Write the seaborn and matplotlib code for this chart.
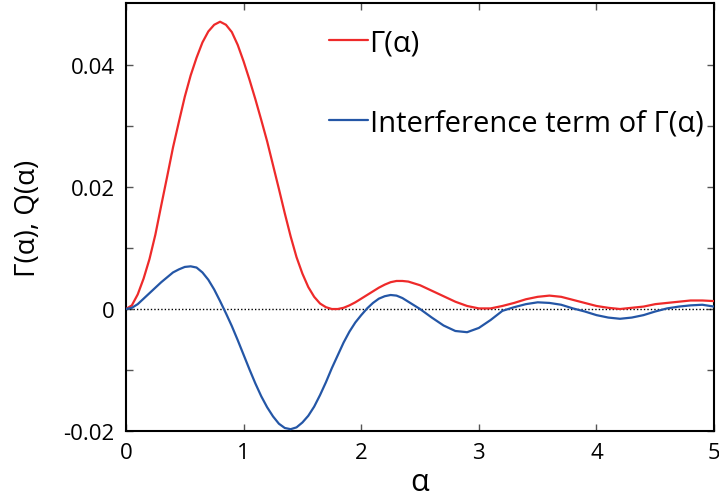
import numpy as np
import pandas as pd
import matplotlib
matplotlib.use("Agg")
import matplotlib.pyplot as plt
import seaborn as sns

alpha = [0.0, 0.05, 0.1, 0.15, 0.2, 0.25, 0.3, 0.35, 0.4, 0.45,
         0.5, 0.55, 0.6, 0.65, 0.7, 0.75, 0.8, 0.85, 0.9, 0.95,
         1.0, 1.05, 1.1, 1.15, 1.2, 1.25, 1.3, 1.35, 1.4, 1.45,
         1.5, 1.55, 1.6, 1.65, 1.7, 1.75, 1.8, 1.85, 1.9, 1.95,
         2.0, 2.05, 2.1, 2.15, 2.2, 2.25, 2.3, 2.35, 2.4, 2.45,
         2.5, 2.6, 2.7, 2.8, 2.9,
         3.0, 3.1, 3.2, 3.3, 3.4, 3.5, 3.6, 3.7, 3.8, 3.9,
         4.0, 4.1, 4.2, 4.3, 4.4, 4.5, 4.6, 4.7, 4.8, 4.9, 5.0]

gamma = [0.0, 0.0006, 0.0024, 0.0050, 0.0082, 0.0122, 0.0170, 0.0217, 0.0265, 0.0307,
         0.0348, 0.0383, 0.0412, 0.0437, 0.0455, 0.0466, 0.0471, 0.0466, 0.0454, 0.0433,
         0.0406, 0.0376, 0.0344, 0.0310, 0.0275, 0.0236, 0.0197, 0.0157, 0.0119, 0.0085,
         0.0058, 0.0036, 0.0020, 0.0009, 0.0003, 0.0000, 0.0000, 0.0002, 0.0006, 0.0011,
         0.0017, 0.0023, 0.0029, 0.0035, 0.0040, 0.0044, 0.0046, 0.0046, 0.0045, 0.0042,
         0.0039, 0.0030, 0.0021, 0.0012, 0.0005,
         0.0001, 0.0001, 0.0005, 0.0010, 0.0016, 0.0020, 0.0022, 0.0020, 0.0015, 0.0010,
         0.0005, 0.0002, 0.0000, 0.0002, 0.0004, 0.0008, 0.0010, 0.0012, 0.0014, 0.0014, 0.0013]

interference = [0.0, 0.0002, 0.0008, 0.0017, 0.0026, 0.0035, 0.0044, 0.0052, 0.0060, 0.0065,
                0.0069, 0.0070, 0.0068, 0.0060, 0.0048, 0.0032, 0.0013, -0.0007, -0.0028, -0.0051,
                -0.0075, -0.0099, -0.0122, -0.0143, -0.0161, -0.0176, -0.0188, -0.0195, -0.0197, -0.0194,
                -0.0186, -0.0175, -0.0160, -0.0141, -0.0120, -0.0097, -0.0076, -0.0055, -0.0037, -0.0022,
                -0.0010, 0.0001, 0.0010, 0.0017, 0.0021, 0.0023, 0.0022, 0.0018, 0.0012, 0.0006,
                0.0000, -0.0014, -0.0027, -0.0036, -0.0038,
                -0.0031, -0.0018, -0.0003, 0.0003, 0.0008, 0.0011, 0.0010, 0.0007, 0.0001, -0.0004,
                -0.0010, -0.0014, -0.0016, -0.0014, -0.0010, -0.0004, 0.0001, 0.0004, 0.0006, 0.0007, 0.0004]

labels = ["Γ(α)", "Interference term of Γ(α)"]
colors = ["#ee2a2a", "#2456a6"]

y_ticks = [-0.02, -0.01, 0.0, 0.01, 0.02, 0.03, 0.04]
y_ticklabels = ["-0.02", "", "0", "", "0.02", "", "0.04"]
x_ticks = [0, 1, 2, 3, 4, 5]

df = pd.DataFrame({
    "alpha": alpha * 2,
    "value": gamma + interference,
    "series": [labels[0]] * len(alpha) + [labels[1]] * len(alpha),
})

sns.set_style("ticks")
plt.rcParams["font.family"] = ["Open Sans", "DejaVu Sans"]
plt.rcParams["axes.unicode_minus"] = False
plt.rcParams["text.color"] = "black"
plt.rcParams["axes.labelcolor"] = "black"

fig = plt.figure(figsize=(7.19, 5.02), dpi=100)
ax = fig.add_axes([0.1752, 0.1394, 0.818, 0.853])

ax.axhline(0, color="black", linestyle=(0, (1, 1.5)), linewidth=1.0, zorder=1)
sns.lineplot(data=df, x="alpha", y="value", hue="series", palette=colors,
             linewidth=1.6, ax=ax, legend=True, zorder=3)

ax.set_xlim(0, 5)
ax.set_ylim(-0.02, 0.0502)
ax.set_xticks(x_ticks)
ax.set_xticklabels([str(t) for t in x_ticks])
ax.set_yticks(y_ticks)
ax.set_yticklabels(y_ticklabels)
ax.tick_params(direction="in", length=5, width=1, colors="#555555",
               labelcolor="black", labelsize=16, top=True, right=True, pad=8)

for s in ax.spines.values():
    s.set_linewidth(1.5)
    s.set_color("black")

ax.set_xlabel("α", fontsize=22, labelpad=3, color="black")
ax.set_ylabel("Γ(α), Q(α)", fontsize=20, labelpad=16, color="black")

handles, labs = ax.get_legend_handles_labels()
leg = ax.legend(handles, labs, loc="upper left", bbox_to_anchor=(0.325, 0.968),
                frameon=False, fontsize=21, handlelength=1.35, handletextpad=0.05,
                labelspacing=1.75, borderaxespad=0, labelcolor="black")

fig.savefig("out.png", dpi=100)
